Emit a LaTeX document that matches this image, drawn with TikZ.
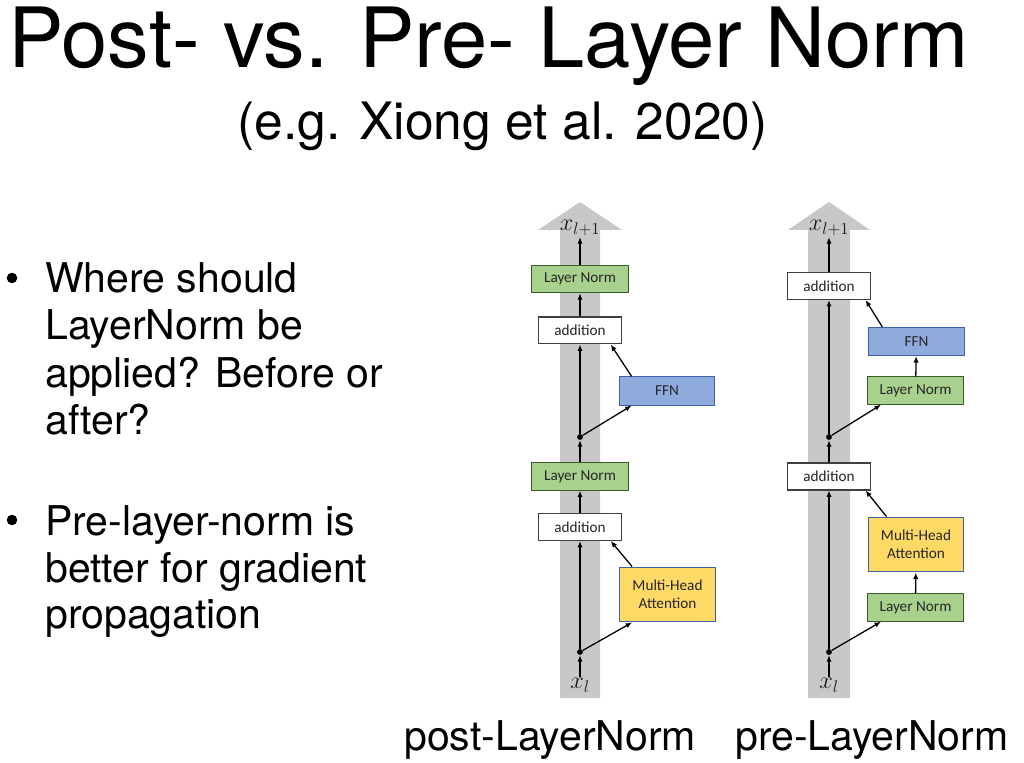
\documentclass[tikz,border=0pt]{standalone}
\usepackage{fontspec}
\setmainfont{TeX Gyre Heros}
\newfontfamily\boxfont{Carlito}
\usetikzlibrary{arrows.meta}

\tikzset{
	txt/.style={anchor=base west,inner sep=0pt},
	blockbox/.style={draw,line width=0.9pt,inner sep=0pt,text=boxtext,align=center,font=\boxfont\fontsize{13}{15}\selectfont},
	lnbox/.style={blockbox,draw=lnline,fill=lngreen,minimum width=82pt,minimum height=23.4pt},
	addbox/.style={blockbox,draw=addline,fill=white,minimum width=71.5pt,minimum height=23pt},
	ffnbox/.style={blockbox,draw=ffnline,fill=ffnblue,minimum width=81.5pt,minimum height=24pt},
	mhabox/.style={blockbox,draw=ffnline,fill=mhayellow,minimum width=81.5pt,minimum height=46.8pt},
	junction/.style={circle,fill=black,inner sep=0pt,minimum size=5pt},
	vecname/.style={inner sep=1pt,text=vectext,font=\fontsize{20}{21}\selectfont},
	conn/.style={line width=1.1pt,-{Latex[length=5.5pt,width=4.5pt]}}
}

\begin{document}
\begin{tikzpicture}[x=0.03cm,y=-0.03cm]
	\definecolor{bargray}{HTML}{C8C8C8}
	\definecolor{lngreen}{HTML}{A9D18E}
	\definecolor{lnline}{HTML}{3A5A28}
	\definecolor{ffnblue}{HTML}{8FAADC}
	\definecolor{ffnline}{HTML}{3E63A8}
	\definecolor{mhayellow}{HTML}{FFD966}
	\definecolor{addline}{HTML}{404040}
	\definecolor{boxtext}{HTML}{262626}
	\definecolor{vectext}{HTML}{1A1A1A}
	\useasboundingbox (0,0) rectangle (1024,763);

	\node[txt,font=\fontsize{71}{80}\selectfont] (title) at (8,68) {Post- vs. Pre- Layer Norm};
	\node[txt,font=\fontsize{44}{50}\selectfont] (subtitle) at (237,140) {(e.g. Xiong et al. 2020)};

	\node[junction,minimum size=9pt] (bulletA) at (12,278) {};
	\node[txt,font=\fontsize{35}{40}\selectfont] (whereA) at (45,293) {Where should};
	\node[txt,font=\fontsize{35}{40}\selectfont] (whereB) at (45,340) {LayerNorm be};
	\node[txt,font=\fontsize{35}{40}\selectfont] (whereC) at (45,388) {applied? Before or};
	\node[txt,font=\fontsize{35}{40}\selectfont] (whereD) at (45,435) {after?};
	\node[junction,minimum size=9pt] (bulletB) at (12,520) {};
	\node[txt,font=\fontsize{35}{40}\selectfont] (betterA) at (45,535) {Pre-layer-norm is};
	\node[txt,font=\fontsize{35}{40}\selectfont] (betterB) at (45,582) {better for gradient};
	\node[txt,font=\fontsize{35}{40}\selectfont] (betterC) at (45,628) {propagation};

	\fill[bargray] (560,698) -- (560,230) -- (538,230) -- (580,202) -- (622,230) -- (600,230) -- (600,698) -- cycle;
	\fill[bargray] (808,698) -- (808,230) -- (788,230) -- (829,202) -- (870,230) -- (850,230) -- (850,698) -- cycle;

	\node[vecname] (postout) at (580,228) {$x_{l+1}$};
	\node[lnbox] (postlnB) at (580,279) {Layer Norm};
	\node[addbox] (postaddB) at (580,330.5) {addition};
	\node[ffnbox] (postffn) at (667,391) {FFN};
	\node[junction] (postdotB) at (580,437) {};
	\node[lnbox] (postlnA) at (580,476.5) {Layer Norm};
	\node[addbox] (postaddA) at (580,527) {addition};
	\node[mhabox] (postmha) at (667.5,594.5) {Multi-Head\\Attention};
	\node[junction] (postdotA) at (580,652) {};
	\node[vecname] (postin) at (580,685) {$x_l$};

	\draw[conn] (postin) -- (postdotA);
	\draw[conn] (postdotA) -- (postaddA);
	\draw[conn] (postdotA) -- ([xshift=11pt]postmha.south west);
	\draw[conn] ([xshift=11pt]postmha.north west) -- ([xshift=-10pt]postaddA.south east);
	\draw[conn] (postaddA) -- (postlnA);
	\draw[conn] (postlnA) -- (postdotB);
	\draw[conn] (postdotB) -- (postaddB);
	\draw[conn] (postdotB) -- ([xshift=11pt]postffn.south west);
	\draw[conn] ([xshift=11pt]postffn.north west) -- ([xshift=-10pt]postaddB.south east);
	\draw[conn] (postaddB) -- (postlnB);
	\draw[conn] (postlnB) -- (postout);

	\node[vecname] (preout) at (829,228) {$x_{l+1}$};
	\node[addbox] (preaddB) at (829,286) {addition};
	\node[ffnbox] (preffn) at (916.5,341.5) {FFN};
	\node[lnbox] (prelnB) at (915.5,390.5) {Layer Norm};
	\node[junction] (predotB) at (829,437) {};
	\node[addbox] (preaddA) at (829,476.5) {addition};
	\node[mhabox] (premha) at (916,544.5) {Multi-Head\\Attention};
	\node[lnbox] (prelnA) at (915.5,607.5) {Layer Norm};
	\node[junction] (predotA) at (829,652) {};
	\node[vecname] (prein) at (829,685) {$x_l$};

	\draw[conn] (prein) -- (predotA);
	\draw[conn] (predotA) -- (preaddA);
	\draw[conn] (predotA) -- ([xshift=12pt]prelnA.south west);
	\draw[conn] (prelnA) -- (premha);
	\draw[conn] ([xshift=16pt]premha.north west) -- ([xshift=-5pt]preaddA.south east);
	\draw[conn] (preaddA) -- (predotB);
	\draw[conn] (predotB) -- (preaddB);
	\draw[conn] (predotB) -- ([xshift=12pt]prelnB.south west);
	\draw[conn] (prelnB) -- (preffn);
	\draw[conn] ([xshift=12pt]preffn.north west) -- ([xshift=-5pt]preaddB.south east);
	\draw[conn] (preaddB) -- (preout);

	\node[txt,font=\fontsize{35}{40}\selectfont] (postname) at (404,750) {post-LayerNorm};
	\node[txt,font=\fontsize{35}{40}\selectfont] (prename) at (735,750) {pre-LayerNorm};
\end{tikzpicture}
\end{document}
